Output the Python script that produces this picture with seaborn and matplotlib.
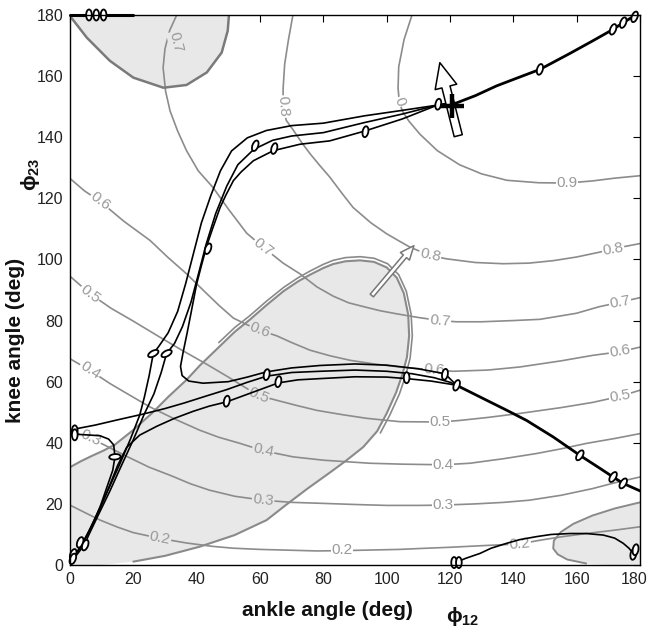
import matplotlib
matplotlib.use("Agg")
import matplotlib.pyplot as plt
import seaborn as sns
import pandas as pd
from matplotlib.patches import Ellipse, Polygon, FancyArrowPatch, ArrowStyle
from matplotlib.path import Path
from matplotlib.transforms import ScaledTranslation
from matplotlib import font_manager

# ---------------- data (ankle angle, knee angle) ----------------
contour_02 = [(0,19.6),(5,17),(9.5,14.7),(15,12.4),(20,10.6),(28.4,8.7),(36.8,7.2),(45,6.1),(51.5,5.5),(60,5.1),(67.3,4.9),(78,4.6),(85.9,4.7),(95,4.9),(104,5.1),(110.5,5.4),(120,5.8),(131.6,6.4),(142,6.9),(148.4,8.1),(155,9.2),(163,10.3),(172,11.4),(180,12.5)]
contour_03 = [(0,44),(3,42.8),(6.5,41.5),(11,39.2),(18,35.5),(25,32),(32,29.2),(38,26.6),(44,24.5),(52,22.5),(61,21.2),(70,20.5),(79,20.2),(90,19.8),(100,19.5),(110,19.5),(117.8,19.6),(128,20),(137,20.5),(145,21.2),(155,22.8),(165,25),(172,26.9),(180,28.8)]
contour_04 = [(0,67.5),(6.3,63.7),(12.6,59.4),(19,55.5),(25.3,51.7),(33,47.8),(41,44.1),(47,41.8),(53.7,39.8),(61,37.4),(70.4,35.4),(80,34.3),(94.7,33.3),(105,33),(117.8,32.8),(126.3,33.3),(137,34.8),(147.4,36.5),(155,38),(163.1,39.8),(172,41.4),(180,43)]
contour_05 = [(0,94.5),(6.3,88.8),(13,84),(20,79.8),(28,74.8),(35,70.5),(43,65.8),(50,61.5),(55,58.3),(59.5,55.5),(65.3,53.9),(72,52.1),(78,50.6),(86,49.2),(93.7,48),(104.2,46.9),(116.8,46.8),(123,47.3),(132,48.3),(142,49.6),(155,51.5),(165,53.2),(173.7,55.2),(180,57.2)]
contour_06 = [(0,126.5),(4.5,122.5),(9.5,119),(17,112.5),(25.3,106.2),(31,100.6),(36.8,95.3),(42,90),(47,85),(51.6,80.8),(56,78.6),(60,76.8),(65.3,75),(70,72.8),(75.8,70.3),(82,68.5),(88.4,67),(96,65.8),(104.2,64.8),(115,63.8),(121,63.4),(132,63.8),(142,64.8),(155,66.8),(165,68.6),(173.7,69.8),(180,71.3)]
contour_07 = [(33.7,180),(31.5,175),(30,169),(29.4,162.7),(30.2,155),(31.6,148.6),(34,142),(36.8,135.6),(40.5,129),(45.2,123.5),(50,116.5),(55.8,108.6),(61,104),(67.3,98.8),(72.6,95.3),(78,91),(83.1,88),(88,85.8),(93.7,84.3),(98,83.2),(103.2,82.2),(110,81),(116.8,80),(122,79.6),(130,79.6),(140,80),(148.4,80.4),(160,82.4),(167,84.5),(173.7,86),(180,87.5)]
contour_08 = [(70.4,180),(69,172),(67.8,164),(67.3,156),(67.3,150),(68.3,145.5),(70.4,142.5),(73,138.5),(75.8,134.6),(79,130.6),(82,127),(86,121.5),(89.4,117),(95,112),(100,108.4),(104,106),(107.4,104),(113.7,101.3),(118.9,100.2),(128,99),(136.8,98.6),(145,98.8),(152.6,99.6),(160,100.8),(167.3,102.4),(171.5,103.5),(180,105.2)]
contour_09 = [(108,180),(105.5,172),(103.8,163),(103.6,156),(104,151.5),(105,148.5),(107,145.3),(110.5,141),(116,135.6),(123,131),(130,128),(138,125.9),(148,125.1),(157,125),(165,125.7),(172,126.6),(180,127.4)]

# contour labels
label_x   = [33.5, 67.3, 104.0, 157.0, 9.5, 61.0, 113.7, 171.5, 6.3, 60.0, 116.8, 173.7, 6.3, 59.5, 115.0, 173.7, 116.8, 173.7, 6.5, 61.0, 117.8, 61.0, 117.8, 28.4, 85.9, 142.0]
label_y   = [171.0, 150.0, 151.5, 125.0, 119.0, 104.0, 101.3, 103.5, 88.8, 76.8, 80.0, 86.0, 63.7, 55.5, 63.8, 69.8, 46.8, 55.2, 41.5, 37.4, 32.8, 21.2, 19.6, 8.7, 4.8, 6.8]
label_txt = ["0.7", "0.8", "0", "0.9", "0.6", "0.7", "0.8", "0.8", "0.5", "0.6", "0.7", "0.7", "0.4", "0.5", "0.6", "0.6", "0.5", "0.5", "0.3", "0.4", "0.4", "0.3", "0.3", "0.2", "0.2", "0.2"]
label_rot = [-76, -86, -70, 0, -37, -38, -12, 10, -37, -21, -5, 10, -33, -23, -4, 10, 0, 10, -25, -12, 0, -6, 0, -11, 0, 5]

# shaded regions
region_top_left = [(0,180),(0.5,179),(5.3,172.6),(12.6,165),(20,159.5),(29.5,156.2),(36.8,157.1),(43.2,161.2),(47.9,167.7),(49.8,174.8),(50.2,180)]
region_big = [(0,32),(3.5,34),(7.3,35.9),(10.5,37.4),(14.2,39.4),(20,44.2),(26,49.8),(31,55),(36.8,60.6),(41,65.3),(47,71.3),(52,76.3),(56.8,80.3),(62,85),(67.4,89.6),(72,92.8),(75.8,95),(80,97.2),(83.1,98.5),(87,99.4),(91.6,99.7),(96,99.2),(100,97.4),(103.2,94),(105.4,89),(106.8,82),(107.1,75),(106.4,68),(105,62.5),(103,56.5),(100,49.6),(97,43.8),(92.6,38.6),(87,34),(82,30.2),(75,25),(68,19.5),(62.1,14.7),(52,9.8),(41,6),(30,3),(20,1.1),(9.5,0),(0,0)]
region_big_outer = [(47,72.8),(52,77.7),(56.8,81.6),(62,86.3),(67.4,90.8),(72,94),(75.8,96.2),(80,98.4),(83.1,99.7),(87,100.6),(91.6,100.9),(96,100.4),(100.3,98.6),(103.8,95),(106.2,89.6),(107.7,82.2),(108.1,75),(107.4,67.7),(106,62),(104,55.9),(101,49.1),(98,43.2)]
region_bottom_right = [(180,20.5),(172,18.5),(165,16.2),(159,13.5),(155,10.8),(152.8,8),(152.6,5.4),(154,3.5),(157,1.8),(163,0.5),(170,0),(180,0)]

# trajectories
traj_top_merged = [(116,150.5),(122,151.2),(128,153.6),(134.7,156.8),(140,158.9),(148.4,162.2),(158,167.5),(165,171.5),(171.5,175.3),(174.7,177.5),(178,179.6),(181,181.5)]
traj_l1 = [(116,150.5),(105,148.8),(93,147),(80,144.6),(70,143.8),(62,142.2),(56,139.8),(51,135.5),(47.5,129),(44.5,121),(41.5,112),(39,102),(36.5,92),(34,83),(31,76),(28,71.5),(26.3,69.2),(25,62),(23.5,55),(22,49),(19,41),(15.5,32.5),(12,24.5),(8,15.5),(5,9),(3,5.5),(1.2,2.5)]
traj_l2 = [(116,150.5),(105,147.6),(93,144.8),(80,141.5),(70,140.4),(64,139),(58,136),(53,131),(49.5,124),(46,115),(43,105),(40.5,95),(38.2,86),(35.5,78),(33,72.5),(30.5,69.2),(28.8,63),(26.5,56),(23.5,49.5),(20,41),(16,32),(12.5,24),(9,16.5),(6,10),(4.7,7),(3,4.5),(1.5,2.5)]
traj_l3 = [(116,150.5),(105,146),(93,142),(82,138.8),(72.6,137.7),(64.2,135.6),(57.9,132.3),(54,128.6),(51.6,125.8),(49.2,121),(47.4,117),(45,110),(43.2,104.5),(41.5,98),(40,92),(38.5,84),(37,76),(35.7,69.5),(34.9,65),(35.4,62),(37.5,60.2),(42,59.5),(50,60),(56,61.5),(62,63.2),(70,64.5),(79,65.3),(90,65.8),(100,65.4),(110,64.2),(118.4,62.6),(122.1,58.8)]
traj_d = [(1.5,44.5),(8,45.8),(15,47.5),(23.1,49.4),(30,51.2),(36,53),(43,55.3),(49.5,57.4),(56,59.8),(62.1,61.8),(70,63),(79,63.4),(90,63.8),(100,63.4),(108,62.6),(115,61.3),(120,59.8),(122.1,58.8)]
traj_e = [(1.2,2.5),(3,5.5),(6,11),(9.5,18.5),(12.5,26),(15,32.5),(17.9,38.5),(22,42.5),(27.4,45.4),(33,48),(38.9,50.3),(44,52),(49.5,53.4),(57.9,56.6),(65.8,59.6),(72,60.6),(79,61),(90,61.6),(100,61.5),(106.3,61),(114,60.2),(120,59.2),(122.1,58.8)]
traj_f = [(1.5,42.8),(5,42.6),(9.5,42.3),(12.2,41.2),(13.8,39.3),(14.2,35.4),(13.5,31),(12,26.5),(9.5,19),(7,13),(4.7,8.5),(2.8,5),(1.2,2.5)]
traj_low_merged = [(122.1,58.8),(126,56.8),(131.6,53.9),(138,50.6),(144.2,47.3),(152.6,41.9),(161,35.9),(167.4,31.6),(171.5,28.8),(174.7,26.7),(181,23.8)]
traj_top_left = [(0,180),(20,180)]
traj_bottom_right = [(121,0.5),(125,2.2),(129.5,3.8),(133,5.5),(137.9,7.1),(142,8.3),(147.4,9.3),(152,10),(157.9,10.3),(163,10.3),(168.4,9.8),(172,8.8),(174.7,7.1),(176.5,5.5),(177.9,3.8)]

# oval markers along the trajectories
marker_x = [6, 8.3, 10.6, 58.5, 64.5, 43.6, 93.3, 116.3, 148.4, 171.5, 174.7, 178.3, 26.3, 30.5, 14.2, 1.5, 1.5, 62.1, 65.8, 49.5, 106.3, 118.4, 122.1, 161, 171.5, 174.7, 121.3, 122.8, 177.9, 178.6, 3.2, 4.8, 1.0, 0.9]
marker_y = [180, 180, 180, 137.2, 136.3, 103.5, 141.8, 150.8, 162.2, 175.3, 177.5, 179.4, 69.2, 69.2, 35.4, 43.9, 42.6, 62.3, 60.0, 53.6, 61.3, 62.4, 58.8, 35.9, 28.8, 26.7, 0.8, 0.8, 3.5, 5.0, 7.4, 6.5, 3.5, 2.0]
marker_angle = [0, 0, 0, -20, -15, -20, -10, -10, -15, -20, -20, -20, -60, -60, -85, 0, 0, -10, -10, -10, 0, -10, -20, -30, -30, -30, 0, 0, -10, -10, -20, -20, -20, -20]

# arrows and optimum
arrow_big = [(122.6, 140.5), (116.8, 164.4)]
arrow_small = [(95.3, 88.2), (108.6, 104.5)]
optimum = (120.5, 150.3)

tick_values = list(range(0, 181, 20))

# ---------------- style ----------------
sns.set_theme(style="white")
avail = {f.name for f in font_manager.fontManager.ttflist}
base_font = "Liberation Sans" if "Liberation Sans" in avail else "DejaVu Sans"
plt.rcParams["font.family"] = [base_font, "DejaVu Sans"]
plt.rcParams["mathtext.fontset"] = "custom"
plt.rcParams["mathtext.rm"] = base_font
plt.rcParams["mathtext.bf"] = base_font + ":bold"
plt.rcParams["mathtext.it"] = base_font + ":italic"

GRAY_FILL = "#e8e8e8"
GRAY_EDGE = "#8a8a8a"
CONTOUR = "#8c8c8c"
LABEL = "#999999"

fig = plt.figure(figsize=(6.51, 6.33), dpi=100)
ax = fig.add_axes([70 / 651, 68 / 633, 570 / 651, 550 / 633])
ax.set_facecolor("white")


def line(points, **kw):
    df = pd.DataFrame(points, columns=["ankle", "knee"])
    sns.lineplot(data=df, x="ankle", y="knee", sort=False, estimator=None,
                 legend=False, ax=ax, **kw)


# shaded regions
for reg in (region_top_left, region_big, region_bottom_right):
    ax.add_patch(Polygon(reg, closed=True, fc=GRAY_FILL, ec="none", zorder=1))

# contour lines
for c in (contour_02, contour_03, contour_04, contour_05, contour_06,
          contour_07, contour_08, contour_09):
    line(c, color=CONTOUR, linewidth=1.2, zorder=2)


def inside(px, py):
    for reg in (region_top_left, region_big, region_bottom_right):
        if Path(reg).contains_point((px, py)):
            return True
    return False


for lx, ly, lt, lr in zip(label_x, label_y, label_txt, label_rot):
    bg = GRAY_FILL if inside(lx, ly) else "white"
    ax.text(lx, ly, lt, color=LABEL, fontsize=11, ha="center", va="center",
            rotation=lr, rotation_mode="anchor", zorder=3,
            bbox=dict(boxstyle="square,pad=0.05", fc=bg, ec="none"))

# region edges
line(region_top_left[1:], color="#7a7a7a", linewidth=1.8, zorder=4)
line(region_big[:-2], color=GRAY_EDGE, linewidth=1.5, zorder=4)
line(region_big_outer, color=GRAY_EDGE, linewidth=1.2, zorder=4)
line(region_bottom_right[:-2], color=GRAY_EDGE, linewidth=1.4, zorder=4)

# small arrow
ax.add_patch(FancyArrowPatch(arrow_small[0], arrow_small[1],
             arrowstyle=ArrowStyle.Simple(head_length=10, head_width=8.5, tail_width=3),
             mutation_scale=1, fc="white", ec="#777777", lw=1.1, zorder=5,
             shrinkA=0, shrinkB=0))

# trajectories
for t in (traj_l1, traj_l2, traj_l3, traj_d, traj_e, traj_f, traj_bottom_right):
    line(t, color="black", linewidth=1.2, zorder=6)
for t in (traj_top_merged, traj_low_merged):
    line(t, color="black", linewidth=2.0, zorder=6)
ax.plot([p[0] for p in traj_top_left], [p[1] for p in traj_top_left],
        color="black", lw=2.2, zorder=6, clip_on=False)

# oval markers
for mx, my, ma in zip(marker_x, marker_y, marker_angle):
    ax.add_patch(Ellipse((mx, my), width=1.8, height=3.6, angle=ma,
                         fc="white", ec="black", lw=1.3, zorder=7,
                         clip_on=False))

# big arrow and optimum
ax.add_patch(FancyArrowPatch(arrow_big[0], arrow_big[1],
             arrowstyle=ArrowStyle.Simple(head_length=18, head_width=16, tail_width=6),
             mutation_scale=1, fc="white", ec="black", lw=1.1, zorder=8,
             shrinkA=0, shrinkB=0))
ax.plot([optimum[0]], [optimum[1]], marker="+", ms=17, mew=3.2, color="black",
        zorder=9)

# axes
ax.set_xlim(0, 180)
ax.set_ylim(0, 180)
ax.set_xticks(tick_values)
ax.set_yticks(tick_values)
ax.set_xlabel("")
ax.set_ylabel("")
ax.tick_params(direction="in", length=5, width=0.8, top=True, right=True,
               labelsize=11.5, pad=5, labelcolor="#222222", color="black")
for s in ax.spines.values():
    s.set_color("black")
    s.set_linewidth(1.0)
    s.set_zorder(10)

# keep the last x tick label inside the canvas
last = ax.xaxis.get_major_ticks()[-1].label1
last.set_transform(last.get_transform() +
                   ScaledTranslation(-0.06, 0, fig.dpi_scale_trans))

fig.text(327 / 651, 1 - 611 / 633, "ankle angle (deg)", fontsize=15,
         fontweight="bold", ha="center", va="center", color="#111111")
fig.text(446 / 651, 1 - 616 / 633, r"$\mathbf{\phi_{12}}$", fontsize=15,
         ha="left", va="center", color="#111111")
fig.text(16 / 651, 1 - 340 / 633, "knee angle (deg)", fontsize=15,
         fontweight="bold", ha="center", va="center", rotation=90,
         color="#111111")
fig.text(31 / 651, 1 - 174 / 633, r"$\mathbf{\phi_{23}}$", fontsize=15,
         ha="center", va="center", rotation=90, color="#111111")

fig.savefig("out.png", dpi=100)
